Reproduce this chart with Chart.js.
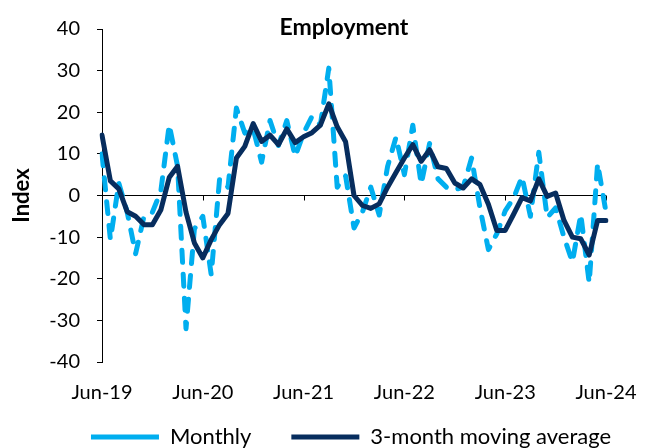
<!DOCTYPE html>
<html><head><meta charset="utf-8">
<script src="https://cdn.jsdelivr.net/npm/chart.js@4/dist/chart.umd.min.js"></script>
<style>html,body{margin:0;padding:0;background:#fff}</style>
</head><body>
<canvas id="c" width="648" height="448"></canvas>
<script>
const categories = [
 'Jun-19','Jul-19','Aug-19','Sep-19','Oct-19','Nov-19','Dec-19',
 'Jan-20','Feb-20','Mar-20','Apr-20','May-20','Jun-20','Jul-20','Aug-20','Sep-20','Oct-20','Nov-20','Dec-20',
 'Jan-21','Feb-21','Mar-21','Apr-21','May-21','Jun-21','Jul-21','Aug-21','Sep-21','Oct-21','Nov-21','Dec-21',
 'Jan-22','Feb-22','Mar-22','Apr-22','May-22','Jun-22','Jul-22','Aug-22','Sep-22','Oct-22','Nov-22','Dec-22',
 'Jan-23','Feb-23','Mar-23','Apr-23','May-23','Jun-23','Jul-23','Aug-23','Sep-23','Oct-23','Nov-23','Dec-23',
 'Jan-24','Feb-24','Mar-24','Apr-24','May-24','Jun-24'];
const tickLabels = ['Jun-19','Jun-20','Jun-21','Jun-22','Jun-23','Jun-24'];
const monthly = [
 10, -10.6, 3, -4, -14, -5, -4,
 1, 17, 7, -32, -8, -5, -19, 4, 2, 21, 15, 16,
 8, 18, 12, 18, 9.4, 15, 19, 17, 30.6, 2, 4.7, -7.8,
 -4, 2, -4.7, 7, 14, 5, 16.9, 2.7, 12.5, 4, 2, 1.4,
 2, 9, -3, -13, -9.2, -3.7, -0.6, 4.5, -5, 10.4, -5.3, -3,
 -10, -16, -4.5, -21, 7.7, -4];
const movingAvg = [
 14.5, 3.5, 1.6, -3.9, -5, -7, -7,
 -3.5, 4.3, 7, -4, -11.4, -15, -10.6, -7, -4.3, 9, 11.8, 17.3,
 13, 14.5, 12.2, 16, 12.7, 14.1, 15.1, 16.9, 22, 16.5, 12.9, 0,
 -2.4, -3.1, -2, 2, 5.5, 9, 12.2, 8.2, 11, 6.9, 6.5, 3,
 1.8, 4, 2.6, -2.1, -8.4, -8.4, -4.5, -0.5, -1.3, 4, -0.2, 0.6,
 -6, -10, -10.4, -14.3, -6, -6];
const seriesNames = ['Monthly', '3-month moving average'];
const titleText = 'Employment';
const yTitle = 'Index';

const FONT = 'Lato';
const LEGEND_PAD = 40;
const LEGEND_FONT = 22;

const zeroTicks = {
  id: 'zeroTicks',
  beforeDatasetsDraw(chart) {
    const {ctx, scales: {x, y}} = chart;
    const y0 = y.getPixelForValue(0);
    ctx.save();
    ctx.strokeStyle = '#000';
    ctx.lineWidth = 1;
    categories.forEach((c, i) => {
      if (tickLabels.includes(c) && i > 0) {
        const px = Math.round(x.getPixelForValue(i)) + 0.5;
        ctx.beginPath();
        ctx.moveTo(px, y0);
        ctx.lineTo(px, y0 + 5);
        ctx.stroke();
      }
    });
    ctx.restore();
  }
};
const chartTitle = {
  id: 'chartTitle',
  afterDraw(chart) {
    const {ctx} = chart;
    ctx.save();
    ctx.font = 'bold 23px ' + FONT;
    ctx.fillStyle = '#000';
    ctx.textAlign = 'center';
    ctx.textBaseline = 'middle';
    ctx.fillText(titleText, 344, 28);
    ctx.restore();
  }
};
const legendShift = {
  id: 'legendShift',
  afterLayout(chart) {
    const lg = chart.legend;
    if (!lg) return;
    const dx = 351 - (lg.left + lg.right) / 2;
    lg.left += dx; lg.right += dx;
    lg.top = 437 - LEGEND_PAD - LEGEND_FONT / 2;
    lg.bottom = chart.height;
  }
};

new Chart(document.getElementById('c'), {
  type: 'line',
  data: {
    labels: categories,
    datasets: [
      {label: seriesNames[0], data: monthly, borderColor: '#00AEEF', backgroundColor: '#00AEEF',
       borderWidth: 5, borderDash: [12, 12], borderCapStyle: 'round', borderJoinStyle: 'round',
       pointRadius: 0, tension: 0, order: 2},
      {label: seriesNames[1], data: movingAvg, borderColor: '#072D5E', backgroundColor: '#072D5E',
       borderWidth: 5, borderCapStyle: 'round', borderJoinStyle: 'round',
       pointRadius: 0, tension: 0, order: 1}
    ]
  },
  options: {
    responsive: false,
    animation: false,
    layout: {padding: {top: 22, right: 0, left: 0, bottom: 0}},
    plugins: {
      title: {display: false},
      tooltip: {enabled: false},
      legend: {
        position: 'bottom', fullSize: true, maxHeight: 30,
        labels: {usePointStyle: true, pointStyle: 'line', pointStyleWidth: 68, padding: LEGEND_PAD,
                 color: '#000', font: {family: FONT, size: LEGEND_FONT},
                 sort: (a, b) => a.datasetIndex - b.datasetIndex}
      }
    },
    scales: {
      x: {
        grid: {display: false, drawTicks: false},
        border: {display: false},
        ticks: {autoSkip: false, maxRotation: 0, padding: 19, color: '#000',
                font: {family: FONT, size: 20},
                callback: (v, i) => tickLabels.includes(categories[i]) ? categories[i] : ''},
        afterFit: s => { s.height = 56; s.paddingRight = 42; }
      },
      y: {
        min: -40, max: 40,
        ticks: {stepSize: 10, padding: 17, color: '#000', font: {family: FONT, size: 20}},
        grid: {color: c => (c.tick && c.tick.value === 0) ? '#000' : 'rgba(0,0,0,0)', tickColor: '#000', tickLength: 5, lineWidth: 1},
        border: {display: true, color: '#000', width: 1},
        title: {display: true, text: yTitle, color: '#000', font: {family: FONT, size: 22, weight: 'bold'}, padding: {top: 9, bottom: 4}},
        afterFit: s => { s.width = 102; }
      }
    }
  },
  plugins: [zeroTicks, chartTitle, legendShift]
});
</script>
</body></html>
